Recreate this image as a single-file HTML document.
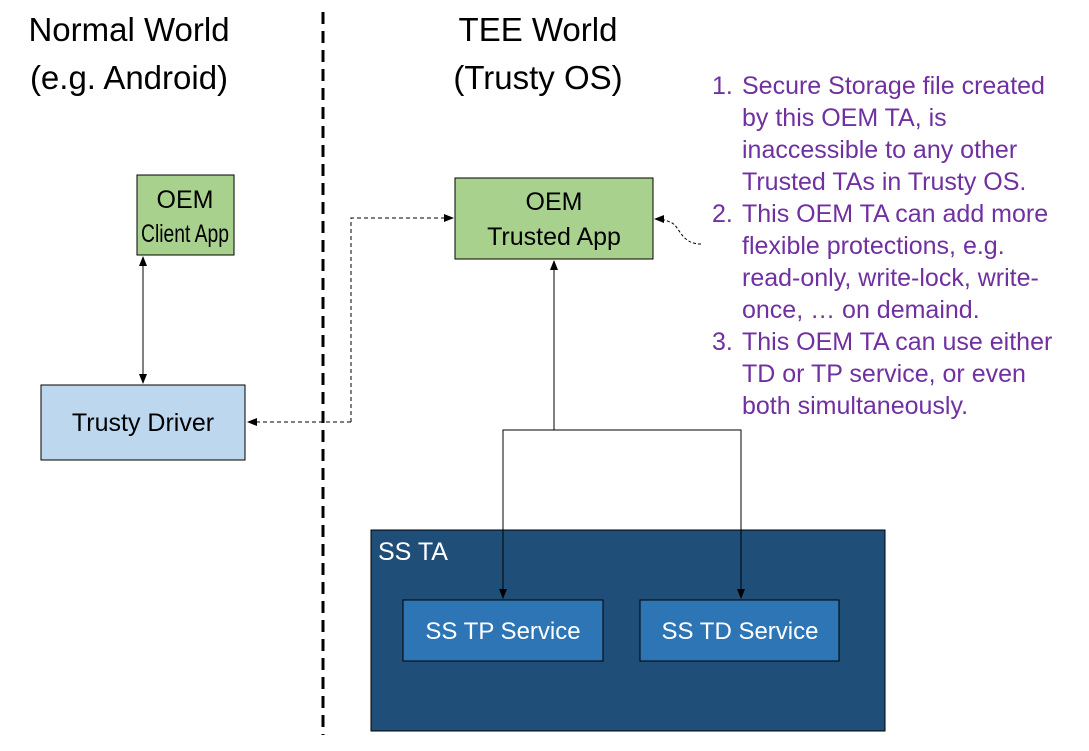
<!DOCTYPE html>
<html><head><meta charset="utf-8"><style>
html,body{margin:0;padding:0;background:#fff;}
svg{display:block;font-family:"Liberation Sans",sans-serif;}
</style></head><body>
<svg width="1089" height="751" viewBox="0 0 1089 751" xmlns="http://www.w3.org/2000/svg">
<defs>
<marker id="a" markerWidth="10" markerHeight="10" refX="9" refY="5" orient="auto" markerUnits="userSpaceOnUse"><path d="M0,1 L10,5 L0,9 z" fill="#000"/></marker>
<marker id="as" markerWidth="10" markerHeight="10" refX="1" refY="5" orient="auto" markerUnits="userSpaceOnUse"><path d="M10,1 L0,5 L10,9 z" fill="#000"/></marker>
</defs>
<g font-size="33" fill="#000" text-anchor="middle">
<text x="129" y="41">Normal World</text>
<text x="129" y="89">(e.g. Android)</text>
<text x="538" y="41">TEE World</text>
<text x="538" y="89">(Trusty OS)</text>
</g>
<line x1="323" y1="12" x2="323" y2="735" stroke="#000" stroke-width="3" stroke-dasharray="12,7"/>
<rect x="137" y="175" width="97" height="80" fill="#a9d18e" stroke="#000" stroke-width="1"/>
<text x="185" y="208" font-size="25" text-anchor="middle">OEM</text>
<text x="185" y="242" font-size="25" text-anchor="middle" textLength="88" lengthAdjust="spacingAndGlyphs">Client App</text>
<rect x="41" y="385" width="204" height="75" fill="#bdd7ee" stroke="#000" stroke-width="1"/>
<text x="143" y="431" font-size="25" text-anchor="middle">Trusty Driver</text>
<rect x="455" y="178" width="198" height="81" fill="#a9d18e" stroke="#000" stroke-width="1"/>
<text x="554" y="210" font-size="25" text-anchor="middle">OEM</text>
<text x="554" y="245" font-size="25" text-anchor="middle">Trusted App</text>
<line x1="143" y1="257" x2="143" y2="383" stroke="#000" stroke-width="1" marker-start="url(#as)" marker-end="url(#a)"/>
<polyline points="351,422 351,218 453,218" fill="none" stroke="#000" stroke-width="1" stroke-dasharray="4,3" marker-end="url(#a)"/>
<line x1="351" y1="422" x2="248" y2="422" stroke="#000" stroke-width="1" stroke-dasharray="4,3" marker-end="url(#a)"/>
<path d="M701,244 C680,244 680,225 670,222 C665,220 662,219 655,219" fill="none" stroke="#000" stroke-width="1" stroke-dasharray="3,2" marker-end="url(#a)"/>
<line x1="554" y1="430" x2="554" y2="261" stroke="#000" stroke-width="1" marker-end="url(#a)"/>
<polyline points="503,598 503,430 741,430 741,598" fill="none" stroke="#000" stroke-width="1"/>
<rect x="371" y="530" width="514" height="201" fill="#1f4e79" stroke="#000" stroke-width="1"/>
<text x="378" y="560" font-size="25" fill="#fff">SS TA</text>
<line x1="503" y1="530" x2="503" y2="598" stroke="#000" stroke-width="1" marker-end="url(#a)"/>
<line x1="741" y1="530" x2="741" y2="598" stroke="#000" stroke-width="1" marker-end="url(#a)"/>
<rect x="403" y="600" width="200" height="61" fill="#2e75b6" stroke="#000" stroke-width="1"/>
<text x="503" y="639" font-size="24" fill="#fff" text-anchor="middle">SS TP Service</text>
<rect x="640" y="600" width="199" height="61" fill="#2e75b6" stroke="#000" stroke-width="1"/>
<text x="740" y="639" font-size="24" fill="#fff" text-anchor="middle">SS TD Service</text>
<g font-size="25" fill="#7030a0">
<text x="712" y="94">1.</text>
<text x="742" y="94">Secure Storage file created</text>
<text x="742" y="126">by this OEM TA, is</text>
<text x="742" y="158">inaccessible to any other</text>
<text x="742" y="190">Trusted TAs in Trusty OS.</text>
<text x="712" y="222">2.</text>
<text x="742" y="222">This OEM TA can add more</text>
<text x="742" y="254">flexible protections, e.g.</text>
<text x="742" y="286">read-only, write-lock, write-</text>
<text x="742" y="318">once, … on demaind.</text>
<text x="712" y="350">3.</text>
<text x="742" y="350">This OEM TA can use either</text>
<text x="742" y="382">TD or TP service, or even</text>
<text x="742" y="414">both simultaneously.</text>
</g>
</svg>
</body></html>
